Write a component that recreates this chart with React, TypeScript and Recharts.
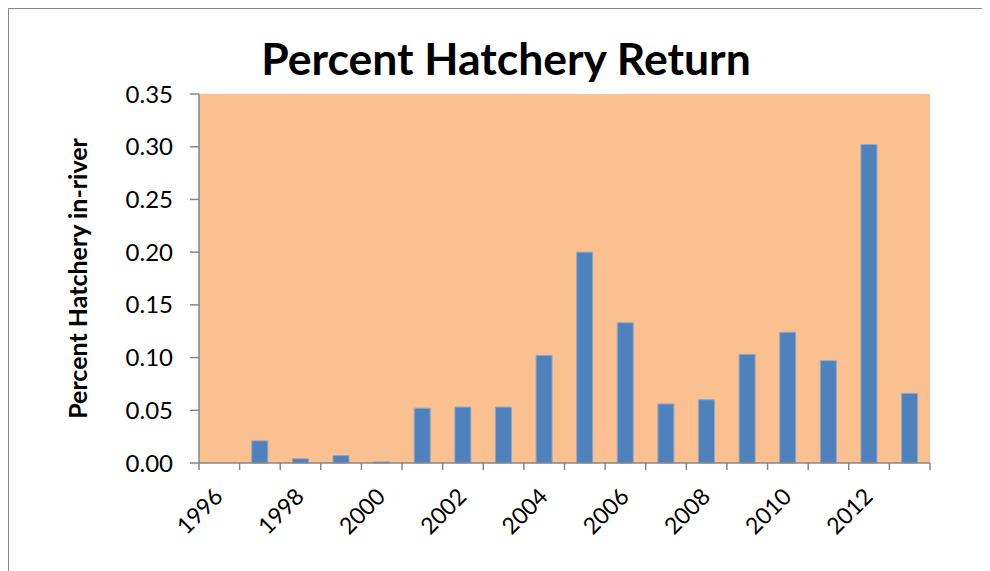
import React from "react";
import { BarChart, Bar, XAxis, YAxis, CartesianGrid } from "recharts";

const years = ["1996", "1997", "1998", "1999", "2000", "2001", "2002", "2003", "2004", "2005", "2006", "2007", "2008", "2009", "2010", "2011", "2012", "2013"];
const hatcheryShare = [null, 0.021, 0.004, 0.007, 0.001, 0.052, 0.053, 0.053, 0.102, 0.2, 0.133, 0.056, 0.06, 0.103, 0.124, 0.097, 0.302, 0.066];
const yTicks = [0, 0.05, 0.1, 0.15, 0.2, 0.25, 0.3, 0.35];

const data = years.map((year, i) => ({ year, value: hatcheryShare[i] }));

const FONT = "Lato, 'Liberation Sans', sans-serif";
const AXIS = "#868686";

function CategoryTick(props: any) {
  const { x, y, payload, index } = props;
  const half = payload?.offset ?? 0;
  const last = index === years.length - 1;
  const tx = x + 5;
  const ty = y + 35;
  return (
    <g>
      <line x1={x - half} x2={x - half} y1={y} y2={y + 7} stroke={AXIS} strokeWidth={1.5} />
      {last && <line x1={x + half} x2={x + half} y1={y} y2={y + 7} stroke={AXIS} strokeWidth={1.5} />}
      {index % 2 === 0 && (
        <text x={tx} y={ty} textAnchor="end" transform={`rotate(-45 ${tx} ${ty})`} fontSize={23} fill="#000" fontFamily={FONT}>
          {payload.value}
        </text>
      )}
    </g>
  );
}

export default function App() {
  return (
    <div
      style={{
        position: "relative",
        width: 982,
        height: 563,
        borderLeft: "1.5px solid #8a8a8a",
        borderTop: "1.5px solid #8a8a8a",
        boxSizing: "border-box",
        background: "#fff",
        fontFamily: FONT,
      }}
    >
      <div
        style={{
          position: "absolute",
          left: 0,
          width: 994,
          top: 27,
          textAlign: "center",
          fontSize: 44.5,
          fontWeight: 700,
          lineHeight: 1,
          color: "#000",
        }}
      >
        Percent Hatchery Return
      </div>
      <div style={{ position: "absolute", left: -1.5, top: -1.5 }}>
        <BarChart width={982} height={563} data={data} margin={{ top: 86, right: 60, bottom: 0, left: 0 }} barCategoryGap="30%">
          <CartesianGrid horizontal={false} vertical={false} fill="#FAC090" />
          <XAxis
            dataKey="year"
            interval={0}
            height={108}
            tickSize={0}
            tickMargin={0}
            tickLine={false}
            axisLine={{ stroke: AXIS, strokeWidth: 1.5 }}
            tick={<CategoryTick />}
          />
          <YAxis
            width={191}
            domain={[0, 0.35]}
            ticks={yTicks}
            interval={0}
            tickFormatter={(v: number) => v.toFixed(2)}
            tickSize={9}
            tickMargin={17}
            tickLine={{ stroke: AXIS, strokeWidth: 1.5 }}
            axisLine={{ stroke: AXIS, strokeWidth: 1.5 }}
            tick={{ fill: "#000", fontSize: 24, fontFamily: FONT }}
            label={{
              content: ({ viewBox }: any) => {
                const cx = viewBox.x + 69;
                const cy = viewBox.y + viewBox.height / 2;
                return (
                  <text x={cx} y={cy} textAnchor="middle" dominantBaseline="central" transform={`rotate(-90 ${cx} ${cy})`} fontSize={25} fontWeight={700} fontFamily={FONT} fill="#000">
                    Percent Hatchery in-river
                  </text>
                );
              },
            }}
          />
          <Bar dataKey="value" fill="#4F81BD" stroke="#8FA8C8" strokeWidth={1} isAnimationActive={false} />
        </BarChart>
      </div>
    </div>
  );
}
